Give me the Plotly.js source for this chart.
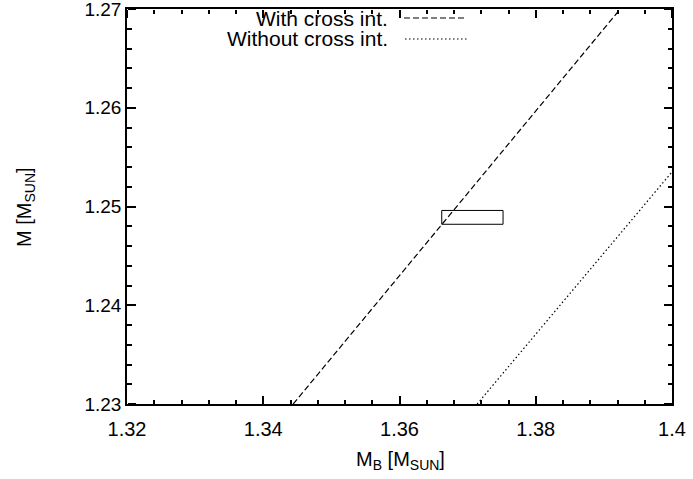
<!DOCTYPE html>
<html>
<head>
<meta charset="utf-8">
<script src="https://cdn.plot.ly/plotly-3.0.1.min.js"></script>
<style>html,body{margin:0;padding:0;background:#fff;}#chart{width:693px;height:479px;}</style>
</head>
<body>
<div id="chart"></div>
<script>
// Data
const withCrossX = [1.3444, 1.3924];
const withCrossY = [1.23, 1.27];
const withoutCrossX = [1.3714, 1.40];
const withoutCrossY = [1.23, 1.2535];
const boxX = [1.3662, 1.3752, 1.3752, 1.3662, 1.3662];
const boxY = [1.2482, 1.2482, 1.2496, 1.2496, 1.2482];
const seriesNames = ["With cross int.", "Without cross int."];
const xTickVals = [1.32, 1.34, 1.36, 1.38, 1.40];
const xTickText = ['1.32', '1.34', '1.36', '1.38', '1.4'];
const yTickVals = [1.23, 1.24, 1.25, 1.26, 1.27];
const yTickText = ['1.23', '1.24', '1.25', '1.26', '1.27'];
const xRange = [1.32, 1.4000001];
const yRange = [1.23, 1.2700001];
const xTitle = 'M<sub>B</sub> [M<sub>SUN</sub>]';
const yTitle = 'M [M<sub>SUN</sub>]';

const FONT = "'Liberation Sans', Arial, sans-serif";

const traces = [
  {x: withCrossX, y: withCrossY, mode: 'lines', name: seriesNames[0],
   line: {color: '#000', width: 1.2, dash: '6px,3px'}, showlegend: false},
  {x: withoutCrossX, y: withoutCrossY, mode: 'lines', name: seriesNames[1], xaxis: 'x3', yaxis: 'y3',
   line: {color: '#000', width: 1.2, dash: '1.5px,2.5px'}, showlegend: false},
  {x: boxX, y: boxY, mode: 'lines', yaxis: 'y4',
   line: {color: '#000', width: 1}, showlegend: false}
];

const L = 127, R = 672, T = 9, B = 404;
const px = v => (v - L) / (R - L);
const py = v => (B - v) / (B - T);

const base = {showgrid: false, zeroline: false, tickcolor: '#000', tickwidth: 1.5};
const xMinorIn = {ticks: 'inside', ticklen: 4, tickwidth: 1.5, dtick: 0.004, tick0: 1.32, tickcolor: '#000', showgrid: false};
const xMinorOut = Object.assign({}, xMinorIn, {ticks: 'outside'});
const yMinorIn = {ticks: 'inside', ticklen: 4, tickwidth: 1.5, dtick: 0.002, tick0: 1.23, tickcolor: '#000', showgrid: false};
const yMinorOut = Object.assign({}, yMinorIn, {ticks: 'outside'});

const layout = {
  width: 693, height: 479,
  margin: {l: L, r: 693 - R, t: T, b: 479 - B},
  paper_bgcolor: '#fff', plot_bgcolor: '#fff',
  font: {family: FONT, size: 20, color: '#000'},
  showlegend: false,
  // main bottom axis: labels + inward ticks
  xaxis: Object.assign({}, base, {
    range: xRange, tickmode: 'array', tickvals: xTickVals, ticktext: xTickText,
    ticks: 'inside', ticklen: 8, ticklabelstandoff: 6, ticklabeloverflow: 'allow',
    showline: true, linecolor: '#000', linewidth: 1.5, mirror: true,
    tickfont: {family: FONT, size: 20, color: '#000'}, minor: xMinorIn
  }),
  // main left axis: labels
  yaxis: Object.assign({}, base, {
    range: yRange, tickmode: 'array', tickvals: yTickVals, ticktext: yTickText,
    ticks: 'inside', ticklen: 8, ticklabeloverflow: 'allow',
    showline: true, linecolor: '#000', linewidth: 1.5, mirror: true,
    tickfont: {family: FONT, size: 19, color: '#000'}, minor: yMinorIn
  }),
  // top edge: bottom-side axis placed at the top, outward ticks point into the plot
  xaxis3: Object.assign({}, base, {
    overlaying: 'x', side: 'bottom', anchor: 'free', position: 1, range: xRange,
    tickmode: 'array', tickvals: xTickVals, ticks: 'outside', ticklen: 8,
    showticklabels: false, showline: false, minor: xMinorOut
  }),
  // left edge: right-side axis placed at the left, outward ticks point into the plot
  yaxis3: Object.assign({}, base, {
    overlaying: 'y', side: 'right', anchor: 'free', position: 0, range: yRange,
    tickmode: 'array', tickvals: yTickVals, ticks: 'outside', ticklen: 8,
    showticklabels: false, showline: false, minor: yMinorOut
  }),
  // right edge: left-side axis placed at the right, outward ticks point into the plot
  yaxis4: Object.assign({}, base, {
    overlaying: 'y', side: 'left', anchor: 'free', position: 1, range: yRange,
    tickmode: 'array', tickvals: yTickVals, ticks: 'outside', ticklen: 8,
    showticklabels: false, showline: false, minor: yMinorOut
  }),
  annotations: [
    {xref: 'paper', yref: 'paper', x: px(390), y: py(18), xanchor: 'right', yanchor: 'middle',
     text: seriesNames[0], showarrow: false, font: {family: FONT, size: 21, color: '#000'}},
    {xref: 'paper', yref: 'paper', x: px(390), y: py(39), xanchor: 'right', yanchor: 'middle',
     text: seriesNames[1], showarrow: false, font: {family: FONT, size: 21, color: '#000'}},
    {xref: 'paper', yref: 'paper', x: px(400), y: py(446), xanchor: 'center', yanchor: 'top',
     text: xTitle, showarrow: false, font: {family: FONT, size: 20, color: '#000'}},
    {xref: 'paper', yref: 'paper', x: px(25), y: py(207), xanchor: 'center', yanchor: 'middle',
     text: yTitle, textangle: -90, showarrow: false, font: {family: FONT, size: 20, color: '#000'}}
  ],
  shapes: [
    {type: 'line', xref: 'paper', yref: 'paper', x0: px(404), x1: px(467), y0: py(18), y1: py(18),
     line: {color: '#000', width: 1.2, dash: '6px,3px'}},
    {type: 'line', xref: 'paper', yref: 'paper', x0: px(405), x1: px(467), y0: py(39), y1: py(39),
     line: {color: '#000', width: 1.2, dash: '1.5px,2.5px'}}
  ]
};

Plotly.newPlot('chart', traces, layout, {displayModeBar: false});
</script>
</body>
</html>
